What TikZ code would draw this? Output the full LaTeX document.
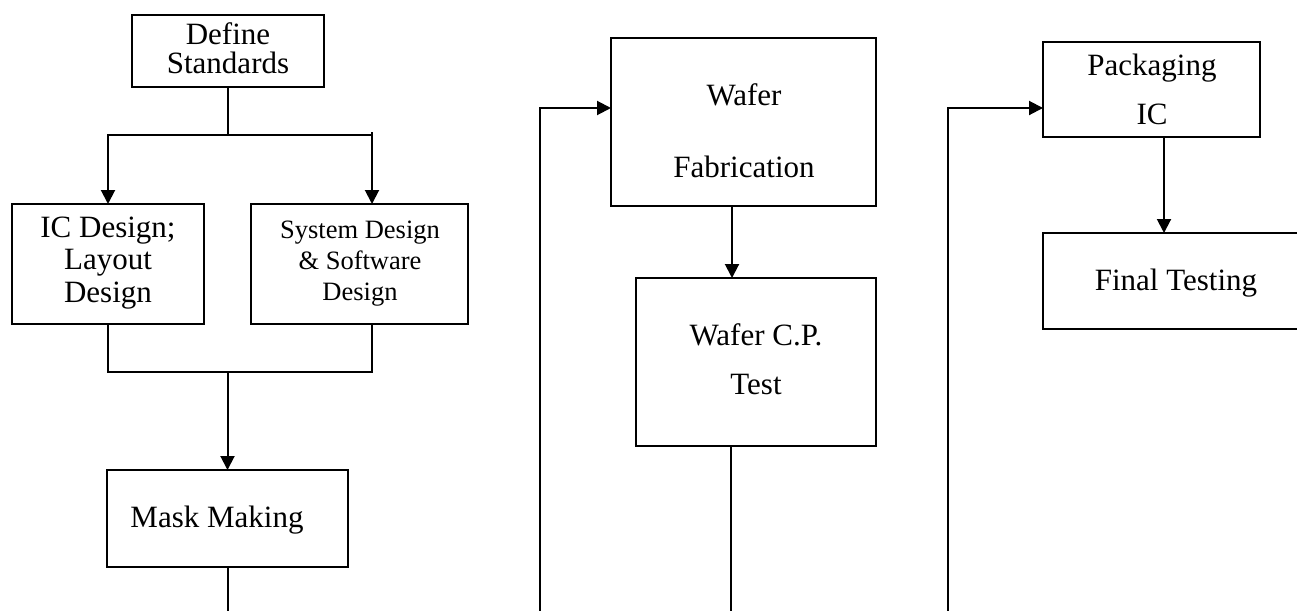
\documentclass[tikz,border=0pt]{standalone}
\usepackage{fontspec}
\setmainfont{Liberation Serif}
\usetikzlibrary{arrows.meta,calc}
\tikzset{
  box/.style={draw, line width=2pt, inner sep=0pt, outer sep=0pt},
  txt/.style={align=center, inner sep=0pt, font={\fontsize{31}{#1}\selectfont}},
  smalltxt/.style={align=center, inner sep=0pt, font={\fontsize{26.5}{#1}\selectfont}},
  conn/.style={line width=2pt},
  arr/.style={conn, -{Triangle[length=14pt,width=14pt]}}
}
\begin{document}
\begin{tikzpicture}[x=1pt,y=-1pt]
\useasboundingbox (0,0) rectangle (1297,610);
% boxes
\node[box, minimum width=192pt, minimum height=72pt]  (DS) at (227.5,51) {};
\node[box, minimum width=192pt, minimum height=120pt] (IC) at (108,264) {};
\node[box, minimum width=217pt, minimum height=120pt] (SD) at (359.5,264) {};
\node[box, minimum width=241pt, minimum height=97pt]  (MM) at (227.5,518.5) {};
\node[box, minimum width=265pt, minimum height=168pt] (WF) at (743.5,122) {};
\node[box, minimum width=240pt, minimum height=168pt] (CP) at (756,362) {};
\node[box, minimum width=217pt, minimum height=95pt]  (PK) at (1151.5,89.5) {};
\node[box, minimum width=266pt, minimum height=96pt]  (FT) at (1176,281) {};
% texts
\node[txt=28.5] (tDS) at (228,48)    {Define\\Standards};
\node[txt=32.5] (tIC) at (108,263)   {IC Design;\\Layout\\Design};
\node[smalltxt=31] (tSD) at (360,264) {System Design\\\& Software\\Design};
\node[txt=36]   (tMM) at (217,520)   {Mask Making};
\node[txt=72]   (tWF) at (744,130.5) {Wafer\\Fabrication};
\node[txt=49]   (tCP) at (756,359)   {Wafer C.P.\\Test};
\node[txt=49]   (tPK) at (1152,89)   {Packaging\\IC};
\node[txt=36]   (tFT) at (1176,283)  {Final Testing};
% connectors: design stage
\path (DS.south) ++(0,48) coordinate (j1);
\coordinate (sdin) at ($(SD.north west)+(121,0)$);
\draw[conn] (DS.south) -- (j1);
\draw[arr] (j1) -| (IC.north);
\draw[conn] (j1) -- (j1 -| sdin);
\draw[arr] ($(sdin)+(0,-72)$) -- (sdin);
\coordinate (sdout) at ($(SD.south west)+(121,0)$);
\path (IC.south) ++(0,48) coordinate (j2);
\draw[conn] (IC.south) -- (j2) -- (j2 -| sdout) -- (sdout);
\draw[arr] (j2 -| MM.north) -- (MM.north);
\path (MM.south) ++(0,48) coordinate (e1);
\draw[conn] (MM.south) -- (e1);
% wafer stage
\coordinate (l1) at (540,615);
\coordinate (wfin) at ($(WF.west)+(0,-14)$);
\draw[arr] (l1) |- (wfin);
\coordinate (wfo) at ($(WF.south west)+(121,0)$);
\draw[arr] (wfo) -- (wfo |- CP.north);
\coordinate (cpo) at ($(CP.south west)+(95,0)$);
\path (cpo) ++(0,169) coordinate (e2);
\draw[conn] (cpo) -- (e2);
% packaging stage
\coordinate (l2) at (948,615);
\coordinate (pkin) at ($(PK.west)+(0,18.5)$);
\draw[arr] (l2) |- (pkin);
\coordinate (pko) at ($(PK.south west)+(121,0)$);
\draw[arr] (pko) -- (pko |- FT.north);
\end{tikzpicture}
\end{document}
